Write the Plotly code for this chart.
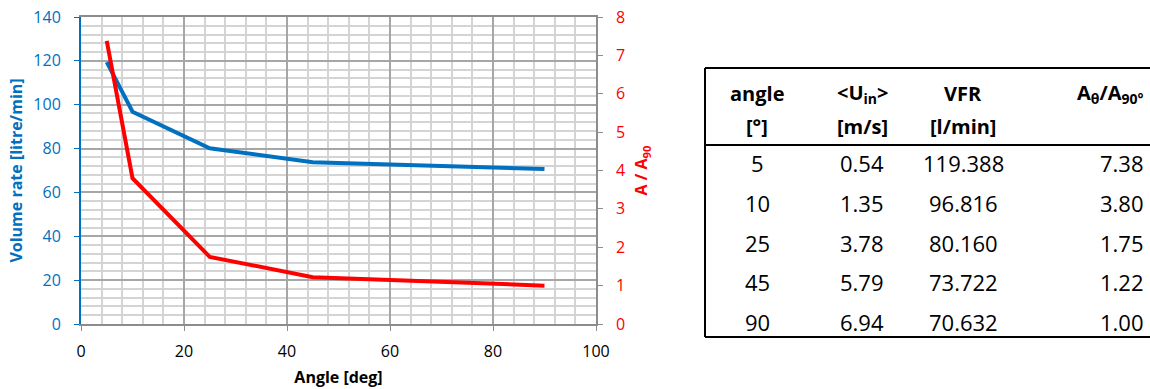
import plotly.graph_objects as go

# Measured inlet data for each inlet angle
angles = [5, 10, 25, 45, 90]
u_in = ["0.54", "1.35", "3.78", "5.79", "6.94"]
vfr = [119.388, 96.816, 80.160, 73.722, 70.632]
area_ratio = [7.38, 3.80, 1.75, 1.22, 1.00]

x_ticks = [0, 20, 40, 60, 80, 100]
header_top = ["angle", "&lt;U<sub>in</sub>&gt;", "VFR", "A<sub>θ</sub>/A<sub>90°</sub>"]
header_bottom = ["[°]", "[m/s]", "[l/min]", ""]

BLUE = "#0070C0"
RED = "#FF0000"
MAJOR = "#a6a6a6"
MINOR = "#d4d4d4"
AXIS_GRAY = "#8c8c8c"
FONT = "Open Sans"

W, H = 1150, 389
PL, PR, PT, PB = 81, 596, 17, 324  # plot-area edges in pixels


def px(x):
    return (x - PL) / (PR - PL)


def py(y):
    return (PB - y) / (PB - PT)


fig = go.Figure()
fig.add_trace(go.Scatter(x=angles, y=vfr, mode="lines",
                         line=dict(color=BLUE, width=4), name="VFR"))
fig.add_trace(go.Scatter(x=angles, y=area_ratio, mode="lines", yaxis="y2",
                         line=dict(color=RED, width=4), name="A/A90"))

fig.update_layout(
    width=W, height=H,
    margin=dict(l=PL, r=W - PR, t=PT, b=H - PB, autoexpand=False),
    paper_bgcolor="white", plot_bgcolor="white",
    showlegend=False,
    font=dict(family=FONT, size=16, color="black"),
    xaxis=dict(
        range=[0, 100], tickvals=x_ticks, ticks="outside", ticklen=5,
        tickcolor=AXIS_GRAY, showline=True, linecolor=AXIS_GRAY, linewidth=1.5,
        mirror=True, showgrid=True, gridcolor=MAJOR, gridwidth=1.5,
        minor=dict(dtick=4, showgrid=True, gridcolor=MINOR, gridwidth=1.5),
        zeroline=False, ticklabelstandoff=7,
        tickfont=dict(size=16, color="black"),
        title=dict(text="<b>Angle [deg]</b>", font=dict(size=16, color="black"),
                   standoff=11),
    ),
    yaxis=dict(
        range=[0, 140], dtick=20, ticks="outside", ticklen=5, tickcolor=BLUE,
        showline=True, linecolor=BLUE, linewidth=2,
        showgrid=True, gridcolor=MAJOR, gridwidth=1.5,
        minor=dict(dtick=4, showgrid=True, gridcolor=MINOR, gridwidth=1.5),
        zeroline=False, ticklabelstandoff=10,
        tickfont=dict(size=16, color=BLUE),
        title=dict(text="<b>Volume rate [litre/min]</b>",
                   font=dict(size=16, color=BLUE), standoff=7),
    ),
    yaxis2=dict(
        range=[0, 8], dtick=1, overlaying="y", side="right", ticks="outside",
        ticklen=5, tickcolor=AXIS_GRAY, showline=True, linecolor=AXIS_GRAY,
        linewidth=1.5, showgrid=False, zeroline=False, ticklabelstandoff=10,
        tickfont=dict(size=16, color=RED),
        title=dict(text="<b>A / A<sub>90</sub></b>",
                   font=dict(size=16, color=RED), standoff=12),
    ),
)

# Data table to the right of the chart
TL, TR, TT, TB, TH = 705, 1152, 68, 337, 145
line = dict(color="black", width=2)
for x0, y0, x1, y1 in [(TL, TT, TR, TT), (TL, TT, TL, TB), (TL, TB, TR, TB),
                       (TL, TH, TR, TH)]:
    fig.add_shape(type="line", xref="paper", yref="paper",
                  x0=px(x0), y0=py(y0), x1=px(x1), y1=py(y1), line=line)

col_x = [757, 862, 963, 1146]
col_anchor = ["center", "center", "center", "right"]


def cell(text, col, y, bold=False, size=21):
    fig.add_annotation(
        xref="paper", yref="paper", x=px(col_x[col]), y=py(y),
        xanchor=col_anchor[col], yanchor="middle", showarrow=False,
        text=f"<b>{text}</b>" if bold else text,
        font=dict(family=FONT, size=size, color="black"),
    )


for c in range(4):
    cell(header_top[c], c, 93, bold=True, size=20)
    if header_bottom[c]:
        cell(header_bottom[c], c, 126, bold=True, size=20)

row_y0, row_step = 163, 39.8
for r in range(len(angles)):
    y = row_y0 + r * row_step
    cell(str(angles[r]), 0, y, size=22)
    cell(u_in[r], 1, y, size=22)
    cell(f"{vfr[r]:.3f}", 2, y, size=22)
    cell(f"{area_ratio[r]:.2f}", 3, y, size=22)

fig.write_html("out.html")
